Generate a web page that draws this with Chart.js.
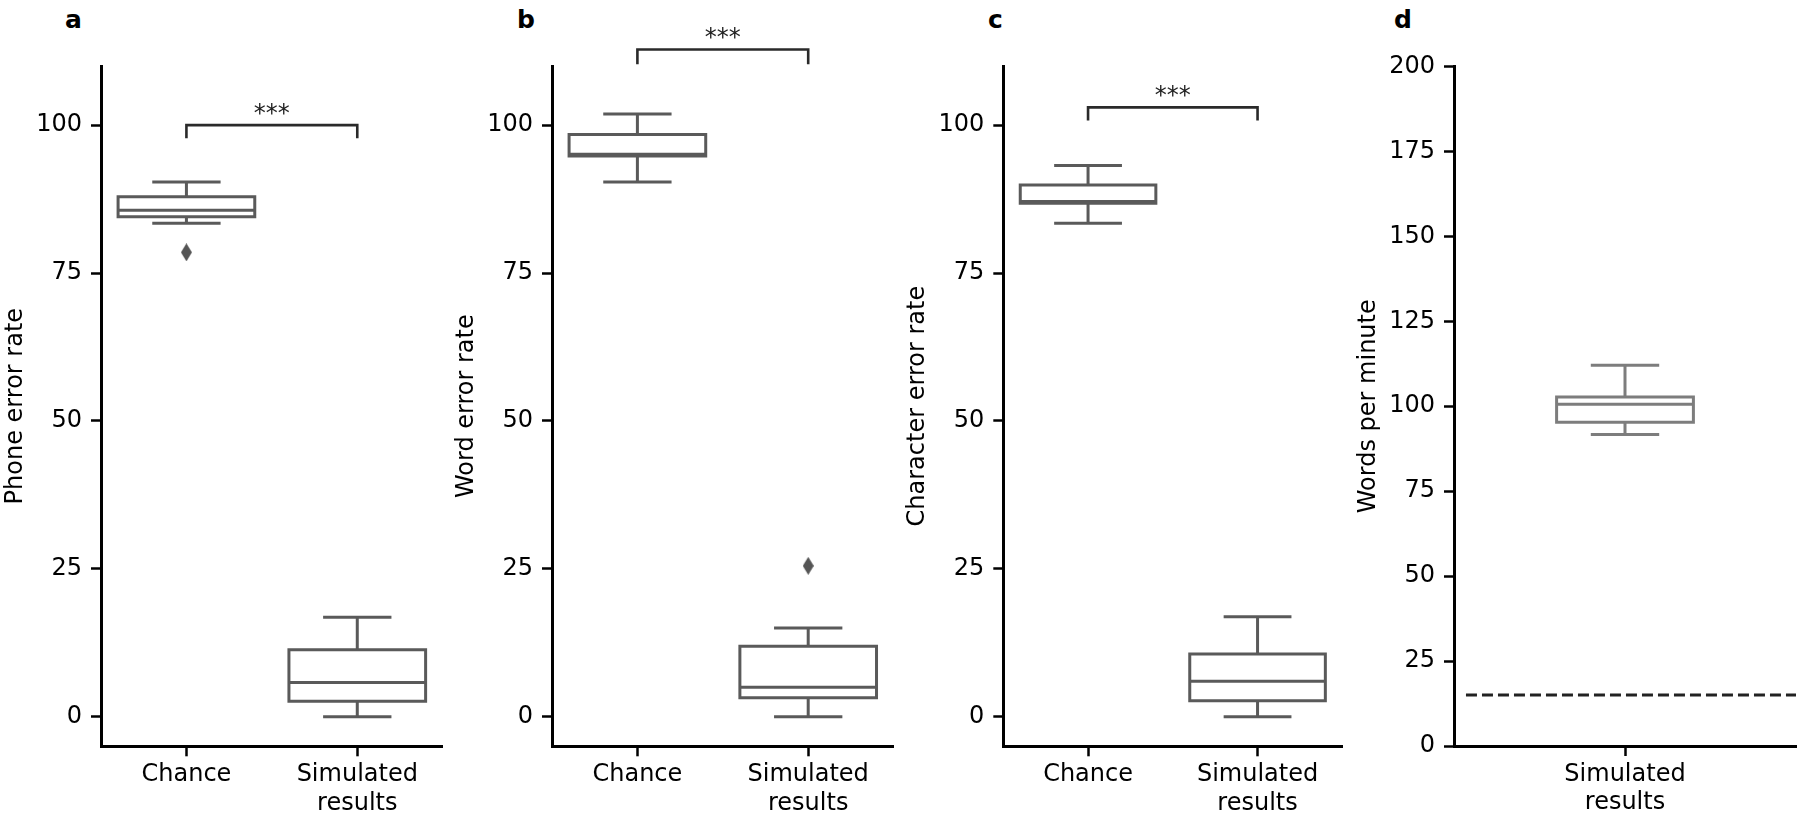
<!DOCTYPE html>
<html><head><meta charset="utf-8">
<script src="https://cdn.jsdelivr.net/npm/chart.js@4/dist/chart.umd.min.js"></script>
<style>
html,body{margin:0;padding:0;background:#fff;}
body{width:1800px;height:814px;position:relative;overflow:hidden;font-family:'DejaVu Sans';}
canvas{position:absolute;top:0;}
.lbl{position:absolute;top:7px;font:bold 25px/25px 'DejaVu Sans';color:#000;}
</style></head><body>
<div class="lbl" style="left:65px">a</div>
<div class="lbl" style="left:517px">b</div>
<div class="lbl" style="left:988px">c</div>
<div class="lbl" style="left:1394px">d</div>
<canvas id="pa" width="450" height="814" style="left:0px"></canvas>
<canvas id="pb" width="450" height="814" style="left:451px"></canvas>
<canvas id="pc" width="450" height="814" style="left:902px"></canvas>
<canvas id="pd" width="447" height="814" style="left:1353px"></canvas>
<script>
// ---------------- data ----------------
const groups = ['Chance', 'Simulated results'];
const wpmGroups = ['Simulated results'];
const errorTicks = [0, 25, 50, 75, 100];
const wpmTicks = [0, 25, 50, 75, 100, 125, 150, 175, 200];
// five-number summaries: [lower whisker, Q1, median, Q3, upper whisker]
const phoneChance = [83.4, 84.5, 85.6, 87.9, 90.4];
const phoneSimulated = [0, 2.6, 5.8, 11.3, 16.8];
const phoneOutliers = [[0, 78.5]];
const wordChance = [90.4, 94.8, 95.1, 98.4, 101.9];
const wordSimulated = [0, 3.2, 5.0, 11.9, 15.0];
const wordOutliers = [[1, 25.5]];
const charChance = [83.4, 86.8, 87.1, 89.9, 93.2];
const charSimulated = [0, 2.7, 6.0, 10.6, 16.9];
const charOutliers = [];
const wpmSimulated = [91.7, 95.3, 100.6, 102.7, 112.1];
const wpmOutliers = [];
const wpmReference = 15;
const wpmReferenceSpan = [-0.93, 1];
// significance brackets: [bottom, top]
const phoneBracket = [97.8, 100];
const wordBracket = [110.3, 112.8];
const charBracket = [100.8, 103];
const sigLabel = '***';

// ---------------- helpers ----------------
Chart.defaults.font.family = "'DejaVu Sans'";
Chart.defaults.color = '#000';

const diamond = (() => {
  const c = document.createElement('canvas');
  c.width = 11; c.height = 18;
  const g = c.getContext('2d');
  g.fillStyle = '#555';
  g.beginPath(); g.moveTo(5.5, 0); g.lineTo(11, 9); g.lineTo(5.5, 18); g.lineTo(0, 9); g.closePath(); g.fill();
  return c;
})();

function boxSets(x, s, color) {
  const [lo, q1, med, q3, hi] = s;
  const hw = 0.4, cw = 0.2;
  const base = {borderColor: color, borderWidth: 3, pointRadius: 0, fill: false, tension: 0, clip: false,
    borderJoinStyle: 'miter', borderCapStyle: 'butt'};
  return [
    {...base, borderCapStyle: 'square', data: [{x: x - hw, y: q1}, {x: x + hw, y: q1}, {x: x + hw, y: q3}, {x: x - hw, y: q3}, {x: x - hw, y: q1}]},
    {...base, data: [{x: x - hw, y: med}, {x: x + hw, y: med}]},
    {...base, data: [{x: x, y: q3}, {x: x, y: hi}]},
    {...base, data: [{x: x - cw, y: hi}, {x: x + cw, y: hi}]},
    {...base, data: [{x: x, y: q1}, {x: x, y: lo}]},
    {...base, data: [{x: x - cw, y: lo}, {x: x + cw, y: lo}]}
  ];
}
function outlierSet(list) {
  return {type: 'line', showLine: false, pointStyle: diamond, pointRadius: 6, clip: false,
    data: list.map(o => ({x: o[0], y: o[1]}))};
}
function bracketSet(b) {
  return {borderColor: '#2a2a2a', borderWidth: 2.6, pointRadius: 0, fill: false, clip: false,
    borderJoinStyle: 'miter',
    data: [{x: 0, y: b[0]}, {x: 0, y: b[1]}, {x: 1, y: b[1]}, {x: 1, y: b[0]}]};
}

const starsPlugin = {
  id: 'stars',
  afterDatasetsDraw(chart, args, opts) {
    if (!opts || !opts.text) return;
    const {ctx, scales} = chart;
    ctx.save();
    ctx.font = "24px 'DejaVu Sans'";
    ctx.fillStyle = '#222';
    ctx.textAlign = 'center';
    ctx.textBaseline = 'alphabetic';
    ctx.fillText(opts.text, scales.x.getPixelForValue(opts.at), scales.y.getPixelForValue(opts.y) - 4);
    ctx.restore();
  }
};

const axisGrid = {drawOnChartArea: false, drawTicks: true, tickLength: 10, tickWidth: 2.5, tickColor: '#000', color: '#000'};
const axisBorder = {display: true, color: '#000', width: 3};

function makePanel(cfg) {
  const canvas = document.getElementById(cfg.id);
  const H = canvas.height;
  new Chart(canvas, {
    type: 'line',
    data: {datasets: cfg.datasets},
    plugins: [starsPlugin],
    options: {
      responsive: false, animation: false, events: [],
      layout: {padding: {top: cfg.top, right: canvas.width - cfg.right, left: 0, bottom: 0}},
      plugins: {legend: {display: false}, tooltip: {enabled: false}, stars: cfg.stars || {}},
      scales: {
        x: {
          type: 'linear', min: cfg.xmin, max: cfg.xmax,
          afterBuildTicks: s => { s.ticks = cfg.cats.map((c, i) => ({value: i})); },
          afterFit: s => { s.height = H - cfg.bottom; },
          grid: axisGrid, border: axisBorder,
          ticks: {autoSkip: false, maxRotation: 0, padding: 4, color: '#000', font: {size: 24},
            callback: v => (cfg.cats[v] !== undefined ? cfg.cats[v].split(' ') : '')}
        },
        y: {
          type: 'linear', min: cfg.ymin, max: cfg.ymax,
          afterBuildTicks: s => { s.ticks = cfg.ticks.map(v => ({value: v})); },
          afterFit: s => { s.width = cfg.axisX; },
          grid: axisGrid, border: axisBorder,
          ticks: {padding: 9, color: '#000', font: {size: 24}},
          title: {display: true, text: cfg.title, color: '#000', font: {size: 24}, padding: {top: 1, bottom: 0}}
        }
      }
    }
  });
}

const boxColor = '#5a5a5a';
const wpmColor = '#7d7d7d';

makePanel({
  id: 'pa', axisX: 101, right: 442.7, top: 66, bottom: 746.3, xmin: -0.5, xmax: 1.5, ymin: -5, ymax: 110,
  cats: groups, ticks: errorTicks, title: 'Phone error rate',
  datasets: [...boxSets(0, phoneChance, boxColor), ...boxSets(1, phoneSimulated, boxColor),
    outlierSet(phoneOutliers), bracketSet(phoneBracket)],
  stars: {text: sigLabel, at: 0.5, y: phoneBracket[1]}
});
makePanel({
  id: 'pb', axisX: 101, right: 442.6, top: 66, bottom: 746.3, xmin: -0.5, xmax: 1.5, ymin: -5, ymax: 110,
  cats: groups, ticks: errorTicks, title: 'Word error rate',
  datasets: [...boxSets(0, wordChance, boxColor), ...boxSets(1, wordSimulated, boxColor),
    outlierSet(wordOutliers), bracketSet(wordBracket)],
  stars: {text: sigLabel, at: 0.5, y: wordBracket[1]}
});
makePanel({
  id: 'pc', axisX: 101.3, right: 440.3, top: 66, bottom: 746.3, xmin: -0.5, xmax: 1.5, ymin: -5, ymax: 110,
  cats: groups, ticks: errorTicks, title: 'Character error rate',
  datasets: [...boxSets(0, charChance, boxColor), ...boxSets(1, charSimulated, boxColor),
    outlierSet(charOutliers), bracketSet(charBracket)],
  stars: {text: sigLabel, at: 0.5, y: charBracket[1]}
});
makePanel({
  id: 'pd', axisX: 101, right: 443, top: 66.5, bottom: 746, xmin: -1, xmax: 1, ymin: 0, ymax: 200,
  cats: wpmGroups, ticks: wpmTicks, title: 'Words per minute',
  datasets: [...boxSets(0, wpmSimulated, wpmColor), outlierSet(wpmOutliers),
    {borderColor: '#222', borderWidth: 3, borderDash: [11, 5], pointRadius: 0, fill: false, clip: false,
     data: wpmReferenceSpan.map(x => ({x: x, y: wpmReference}))}]
});
</script>
</body></html>
